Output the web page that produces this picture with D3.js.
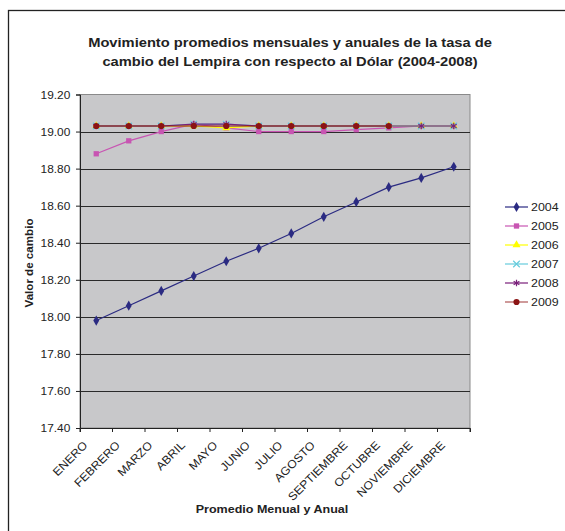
<!DOCTYPE html>
<html><head><meta charset="utf-8">
<script src="https://cdn.jsdelivr.net/npm/d3@7"></script>
<style>body{margin:0;background:#fff}svg{display:block}text{font-family:Arial,"Liberation Sans",sans-serif}</style>
</head><body><svg id="c" width="565" height="531"></svg>
<script>
const months = ["ENERO","FEBRERO","MARZO","ABRIL","MAYO","JUNIO","JULIO","AGOSTO","SEPTIEMBRE","OCTUBRE","NOVIEMBRE","DICIEMBRE"];
const years = ["2004","2005","2006","2007","2008","2009"];
const v2004 = [17.98,18.06,18.14,18.22,18.30,18.37,18.45,18.54,18.62,18.70,18.75,18.81];
const v2005 = [18.88,18.95,19.00,19.04,19.02,19.00,19.00,19.00,19.01,19.02,19.03,19.03];
const v2006 = [19.03,19.03,19.03,19.03,19.02,19.03,19.03,19.03,19.03,19.03,19.03,19.03];
const v2007 = [19.03,19.03,19.03,19.04,19.04,19.03,19.03,19.03,19.03,19.03,19.03,19.03];
const v2008 = [19.03,19.03,19.03,19.04,19.04,19.03,19.03,19.03,19.03,19.03,19.03,19.03];
const v2009 = [19.03,19.03,19.03,19.03,19.03,19.03,19.03,19.03,19.03,19.03,null,null];
const yTicks = [17.40,17.60,17.80,18.00,18.20,18.40,18.60,18.80,19.00,19.20];
const titleLines = ["Movimiento promedios mensuales y anuales de la tasa de","cambio del Lempira con respecto al Dólar (2004-2008)"];

const seriesVals = [v2004,v2005,v2006,v2007,v2008,v2009];
const colors = ["#2b2b82","#c855b2","#ffff00","#66ccdd","#7a1f7a","#8b1414"];
const legendLine = ["#2b2b82","#c855b2","#ffff00","#66ccdd","#7a1f7a","#b05858"];
const shapes = ["diamond","square","triangle","x","star","circle"];

const svg = d3.select("#c");
const L=80,R=470,T=94.5,B=428;
const SX=1.08; // horizontal text stretch
const x = d3.scaleBand().domain(months).range([L,R]);
const y = d3.scaleLinear().domain([17.4,19.2]).range([B,T]);

svg.append("rect").attr("x",8.5).attr("y",10.5).attr("width",700).attr("height",700).attr("fill","none").attr("stroke","#222").attr("stroke-width",1.3);

svg.append("rect").attr("x",L).attr("y",T).attr("width",R-L).attr("height",B-T).attr("fill","#c8c8ca").attr("stroke","#8a8a8a");

// gridlines
svg.append("g").selectAll("line").data(yTicks.slice(1,-1)).join("line")
  .attr("x1",L).attr("x2",R).attr("y1",d=>Math.round(y(d))+0.5).attr("y2",d=>Math.round(y(d))+0.5)
  .attr("stroke","#2a2a2a").attr("stroke-width",1);

// y axis
const ya = svg.append("g").attr("transform",`translate(${L},0)`)
  .call(d3.axisLeft(y).tickValues(yTicks).tickFormat(d3.format(".2f")).tickSize(4).tickPadding(5));
ya.select(".domain").attr("stroke","#222");
ya.selectAll(".tick line").attr("stroke","#222");
ya.selectAll("text").attr("font-size",11).attr("fill","#222").attr("font-family","Arial")
  .attr("transform",`scale(${SX},1)`);

// x axis
const xa = svg.append("g").attr("transform",`translate(0,${B})`)
  .call(d3.axisBottom(x).tickSize(4).tickFormat(""));
xa.select(".domain").attr("stroke","#222");
xa.selectAll(".tick line").attr("transform",`translate(${x.bandwidth()/2},0)`).attr("stroke","#222");
svg.append("line").attr("x1",L).attr("x2",L).attr("y1",B).attr("y2",B+4).attr("stroke","#222");
svg.append("g").selectAll("text").data(months).join("text")
  .attr("transform",d=>`translate(${x(d)+x.bandwidth()/2-8},${B+18}) rotate(-45) scale(1.06,1)`)
  .attr("text-anchor","end").attr("font-size",11.5).attr("fill","#222").text(d=>d);

// lines + markers
const sym = {diamond:d3.symbolDiamond, square:d3.symbolSquare, triangle:d3.symbolTriangle, x:d3.symbolX, star:d3.symbolAsterisk, circle:d3.symbolCircle};
const line = d3.line().defined(d=>d!=null).x((d,i)=>x(months[i])+x.bandwidth()/2).y(d=>y(d));
function marker(g, s, c, cx, cy){
  const sz = s==="square"?28: s==="diamond"?30: s==="triangle"?28: s==="circle"?30:30;
  const p = g.append("path").attr("d",d3.symbol().type(sym[s]).size(sz)()).attr("transform",`translate(${cx},${cy})`);
  if(s==="x"||s==="star") p.attr("fill","none").attr("stroke",c).attr("stroke-width",1.2);
  else p.attr("fill",c);
}
seriesVals.forEach((vals,k)=>{
  const g = svg.append("g");
  g.append("path").datum(vals).attr("d",line).attr("fill","none").attr("stroke",colors[k]).attr("stroke-width",1.2);
  vals.forEach((v,i)=>{ if(v!=null) marker(g,shapes[k],colors[k],x(months[i])+x.bandwidth()/2,y(v)); });
});

// legend
years.forEach((yr,k)=>{
  const ly = 207+19*k;
  const g = svg.append("g");
  g.append("line").attr("x1",505).attr("x2",528).attr("y1",ly).attr("y2",ly).attr("stroke",legendLine[k]).attr("stroke-width",1.2);
  marker(g,shapes[k],colors[k],516.5,ly);
  g.append("text").attr("transform",`translate(531,${ly+4}) scale(${SX},1)`).attr("font-size",11.5).attr("fill","#222").text(yr);
});

// titles
svg.append("g").selectAll("text").data(titleLines).join("text")
  .attr("transform",(d,i)=>`translate(290,${47+19*i}) scale(${SX},1)`).attr("text-anchor","middle").attr("font-size",13.6).attr("font-weight","bold").attr("fill","#222").text(d=>d);
svg.append("text").attr("transform","translate(33,263) rotate(-90)").attr("text-anchor","middle").attr("font-size",11.6).attr("font-weight","bold").attr("fill","#222").text("Valor de cambio");
svg.append("text").attr("transform",`translate(272,513) scale(${SX},1)`).attr("text-anchor","middle").attr("font-size",11.6).attr("font-weight","bold").attr("fill","#222").text("Promedio Menual y Anual");
</script></body></html>
